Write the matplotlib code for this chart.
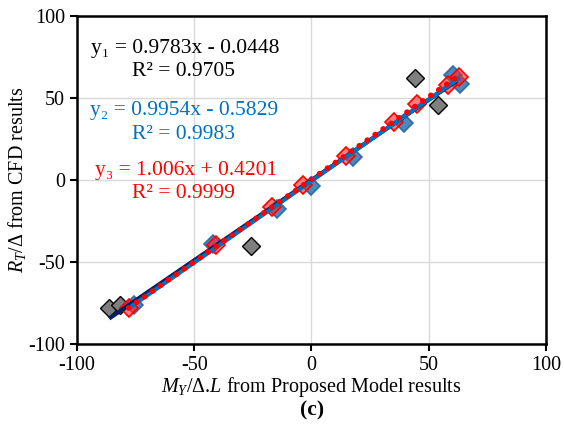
import numpy as np
import matplotlib
matplotlib.use("Agg")
import matplotlib.pyplot as plt

plt.rcParams['font.family'] = ['Liberation Serif', 'DejaVu Serif']
plt.rcParams['mathtext.fontset'] = 'custom'
plt.rcParams['mathtext.rm'] = 'Liberation Serif'
plt.rcParams['mathtext.it'] = 'Liberation Serif:italic'
plt.rcParams['axes.unicode_minus'] = False

# series 1 (grey), series 2 (blue), series 3 (red)
x1 = [-86.3, -81.8, -25.8, 44.0, 54.0]
y1 = [-78.2, -76.2, -40.2, 62.4, 45.7]
x2 = [-75.6, -42.2, -14.5, -0.1, 17.6, 39.4, 60.3, 63.2]
y2 = [-76.0, -39.0, -17.5, -3.5, 14.2, 35.0, 64.0, 58.5]
x3 = [-78.0, -40.7, -16.7, -3.7, 14.8, 35.2, 45.2, 58.3, 62.9]
y3 = [-78.0, -39.6, -16.3, -3.0, 14.6, 35.6, 46.3, 57.9, 63.0]

# trendline coefficients (slope, intercept) and x-range
fit1 = (0.9783, -0.0448, -86.3, 62.0)
fit2 = (0.9954, -0.5829, -77.0, 63.2)
fit3 = (1.006, 0.4201, -78.0, 63.0)

fig = plt.figure(figsize=(5.64, 4.34), dpi=100)
ax = fig.add_axes([0.1365, 0.2074, 0.8315, 0.7556])

ax.plot(x1, y1, 'D', ms=9, mfc='#7f7f7f', mec='black', mew=1.0, zorder=3)
ax.plot(x2, y2, 'D', ms=9, mfc='#2e75b6', mec='#1f5f9a', mew=1.2, alpha=0.85, zorder=3)
ax.plot(x3, y3, 'D', ms=9, mfc=(1, 0.15, 0.15, 0.6), mec='#ff0000', mew=1.2, zorder=3)

for (m, b, lo, hi), col, ls, lw in [(fit1, '#002060', '-', 3.0),
                                     (fit2, '#0070c0', '-', 3.0),
                                     (fit3, '#ff0000', (0, (0.05, 1.7)), 4.0)]:
    xs = np.array([lo, hi])
    ax.plot(xs, m * xs + b, color=col, ls=ls, lw=lw, zorder=4,
            dash_capstyle='round', solid_capstyle='butt')

ax.set_xlim(-100, 100)
ax.set_ylim(-100, 100)
ax.set_xticks([-100, -50, 0, 50, 100])
ax.set_yticks([-100, -50, 0, 50, 100])
ax.grid(True, color='#d9d9d9', lw=1.0)
ax.set_axisbelow(True)
for s in ax.spines.values():
    s.set_linewidth(1.8)
ax.tick_params(labelsize=14.5, width=1.5, length=5, direction='out')

ax.set_xlabel(r'$M_Y$/Δ.$L$ from Proposed Model results', fontsize=14.5, labelpad=0)
ax.set_ylabel(r'$R_T$/Δ from CFD results', fontsize=14.5, labelpad=0)

fs = 15.5
ax.text(-94, 80.5, 'y₁ = 0.9783x - 0.0448', fontsize=fs, color='black', va='center')
ax.text(-76.5, 66, 'R² = 0.9705', fontsize=fs, color='black', va='center')
ax.text(-94.5, 42.7, 'y₂ = 0.9954x - 0.5829', fontsize=fs, color='#0070c0', va='center')
ax.text(-76.5, 28, 'R² = 0.9983', fontsize=fs, color='#0070c0', va='center')
ax.text(-92.5, 6.1, 'y₃ = 1.006x + 0.4201', fontsize=fs, color='#ff0000', va='center')
ax.text(-76.5, -8.5, 'R² = 0.9999', fontsize=fs, color='#ff0000', va='center')

fig.text(0.553, 0.055, '(c)', fontsize=15.5, fontweight='bold', ha='center', va='center')

fig.savefig('out.png', dpi=100)
